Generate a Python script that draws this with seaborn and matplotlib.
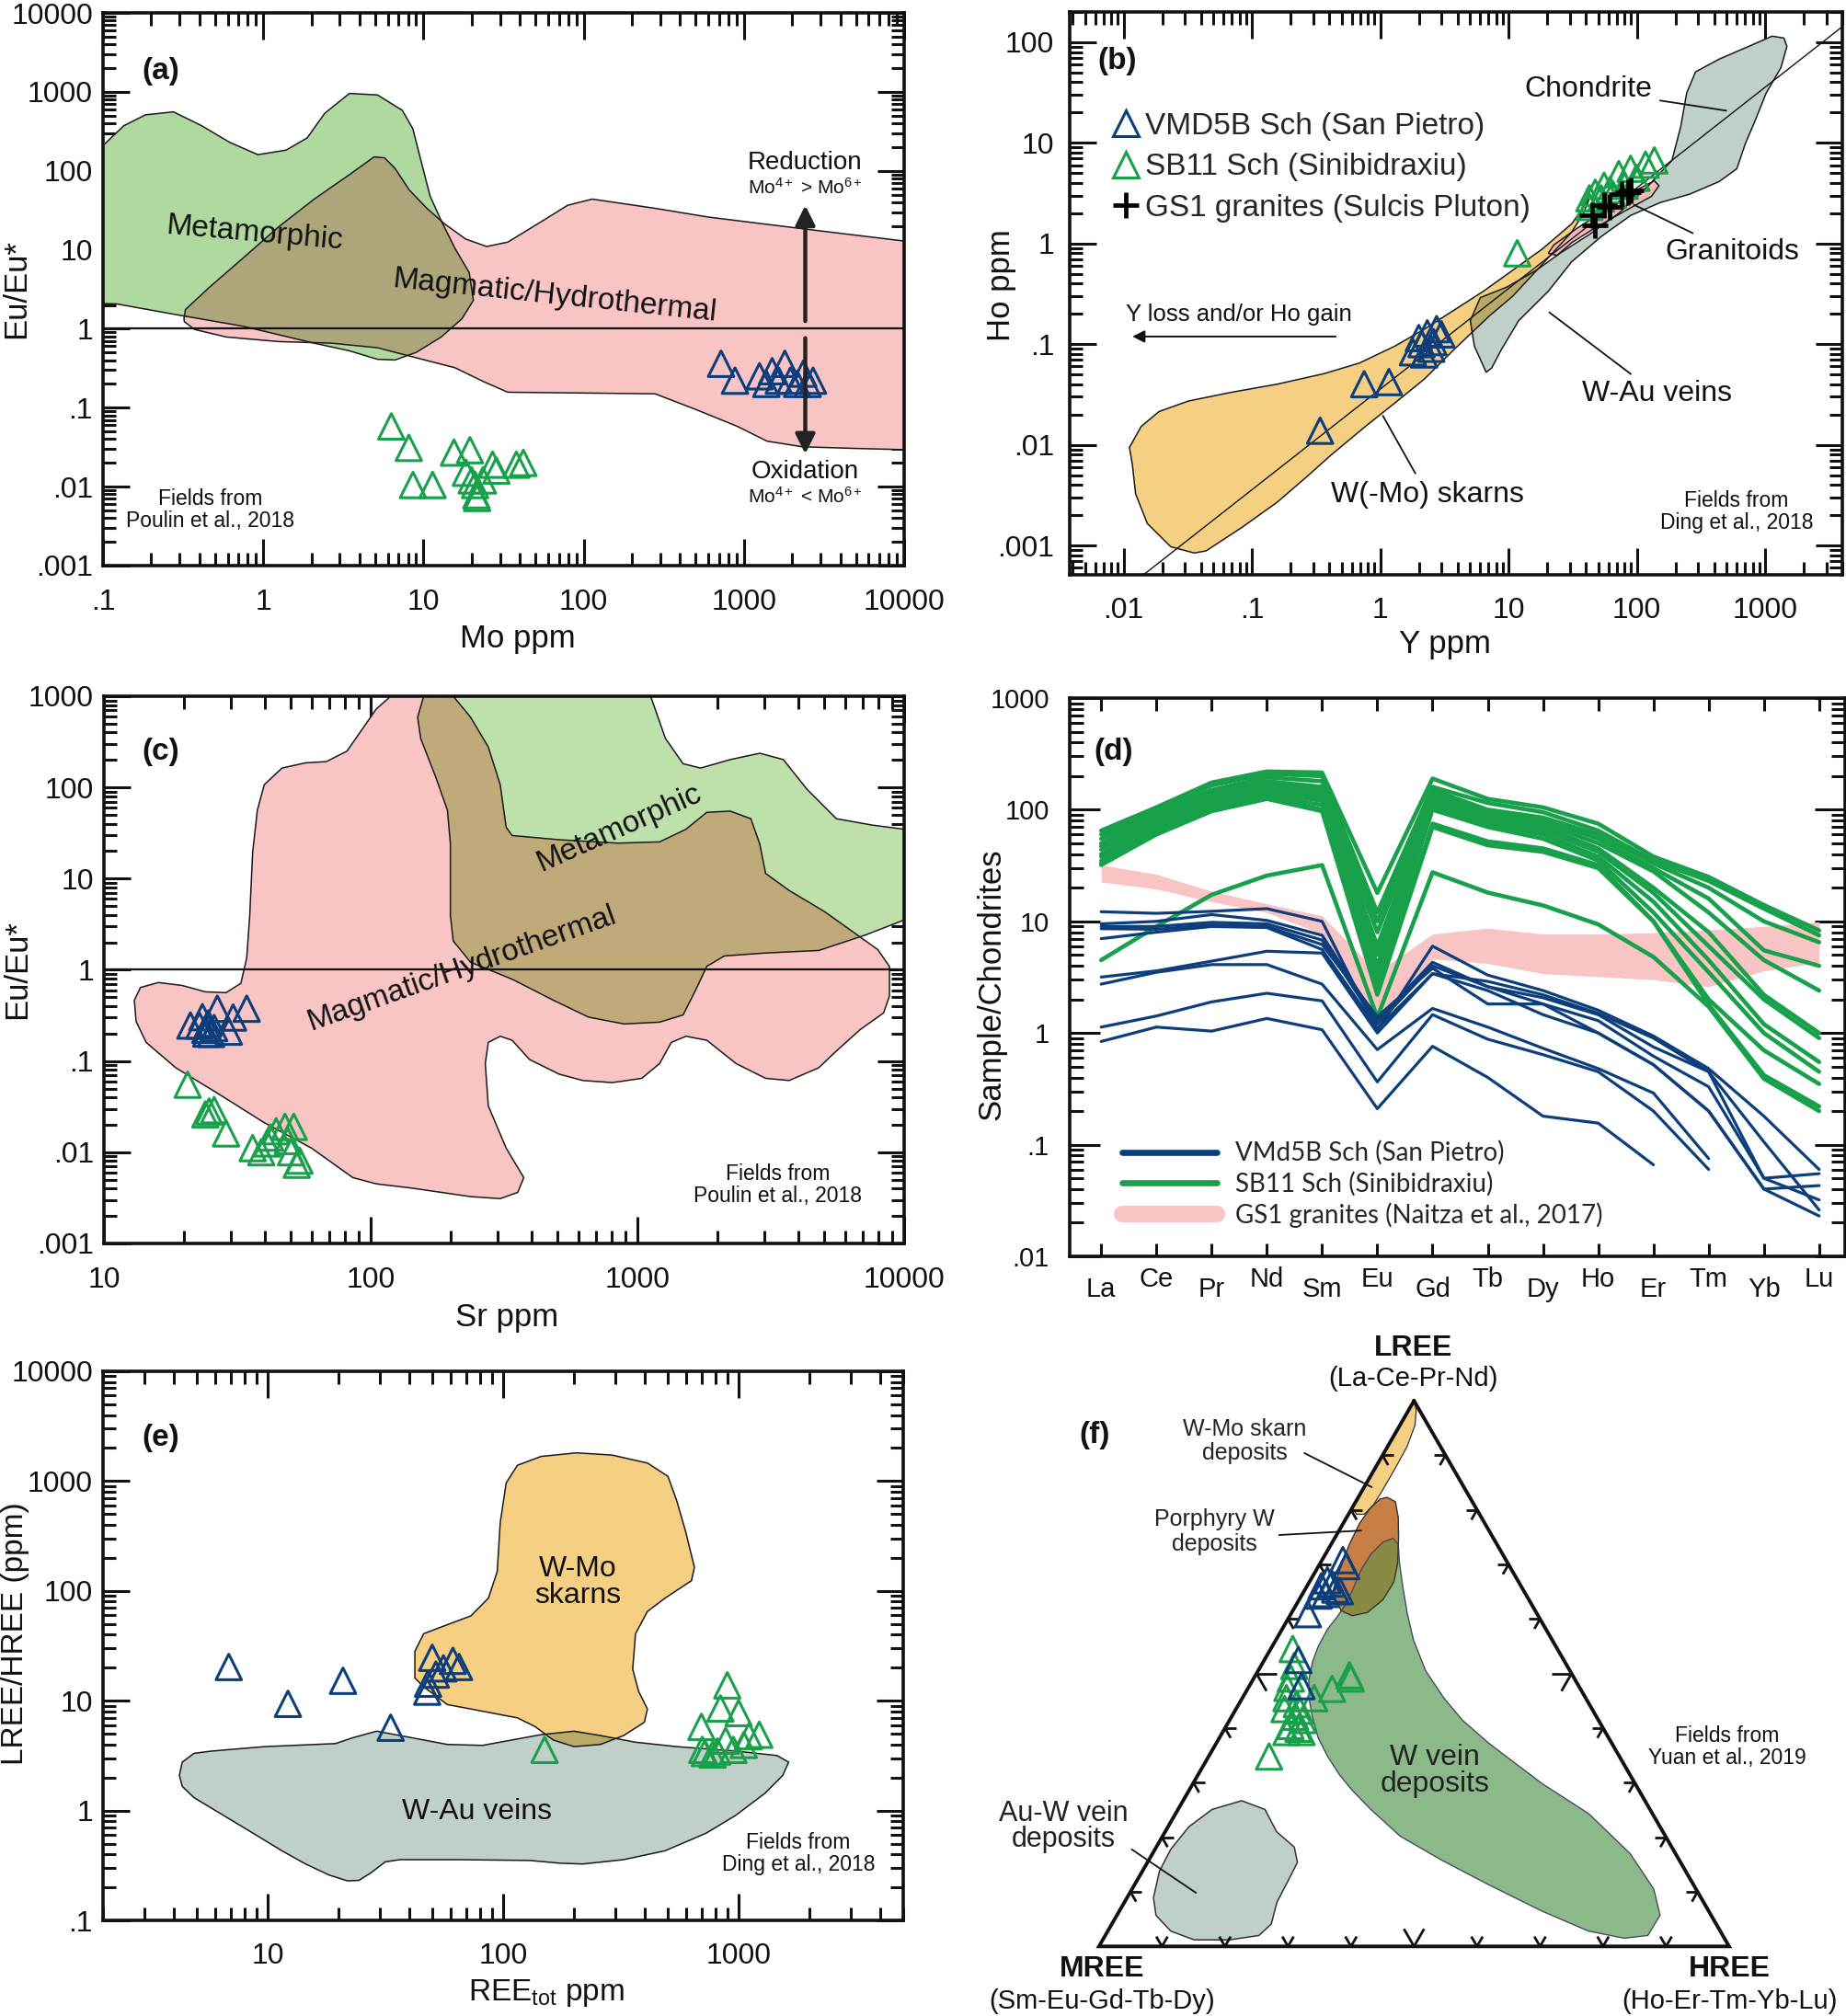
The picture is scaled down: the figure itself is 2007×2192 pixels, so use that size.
"""
Six-panel geochemistry figure: Eu/Eu* vs Mo and Sr, Ho vs Y, REE spider
diagram, LREE/HREE vs REE total and an LREE-MREE-HREE ternary plot.
"""
import matplotlib
matplotlib.use("Agg")
import matplotlib.pyplot as plt
import numpy as np
import pandas as pd
import seaborn as sns
from matplotlib.lines import Line2D
from matplotlib.patches import Polygon
from matplotlib.ticker import (FixedLocator, FuncFormatter, LogLocator,
                               NullFormatter, NullLocator)
from matplotlib.transforms import blended_transform_factory

sns.set_style("ticks")
plt.rcParams["font.family"] = ["Liberation Sans", "DejaVu Sans"]
plt.rcParams["mathtext.fontset"] = "custom"
plt.rcParams["mathtext.rm"] = "Liberation Sans"
plt.rcParams["mathtext.it"] = "Liberation Sans:italic"
plt.rcParams["mathtext.bf"] = "Liberation Sans:bold"

# ---------------------------------------------------------------- data ----
# (a) Eu/Eu* vs Mo
A_BLUE_MO = [720, 880, 1250, 1380, 1500, 1650, 1800, 1950, 2150, 2350, 2500, 2700]
A_BLUE_EU = [0.36, 0.22, 0.25, 0.20, 0.29, 0.22, 0.36, 0.22, 0.20, 0.27, 0.20, 0.22]
A_GREEN_MO = [6.3, 8.1, 8.6, 11.4, 15.5, 19.5, 18.4, 20.0, 21.4, 21.6, 23.5, 27.0, 28.5, 38.0, 42.0, 21.0]
A_GREEN_EU = [0.058, 0.031, 0.0105, 0.0105, 0.027, 0.029, 0.015, 0.012, 0.0078, 0.0072,
              0.012, 0.019, 0.016, 0.019, 0.020, 0.0105]
A_META = [(0.1, 209), (0.135, 373), (0.184, 511), (0.275, 558), (0.412, 373), (0.618, 229),
          (0.927, 160), (1.39, 183), (1.88, 261), (2.42, 535), (3.45, 955), (5.17, 913),
          (7.37, 584), (8.58, 342), (9.49, 153), (11.0, 47.9), (12.9, 23.4), (15.7, 10.5),
          (19.3, 5.13), (20.5, 2.29), (17.4, 1.34), (12.9, 0.786), (9.02, 0.502), (6.65, 0.402),
          (5.17, 0.41), (3.45, 0.525), (2.08, 0.656), (0.757, 1.07), (0.275, 1.53),
          (0.122, 2.06), (0.1, 2.08)]
A_MAGMA = [(0.32, 1.34), (0.327, 1.75), (0.456, 3.28), (0.757, 8.02), (1.25, 19.6), (2.08, 43.8),
           (3.45, 89.4), (4.92, 150), (5.72, 146), (6.65, 107), (8.15, 57.2), (10.5, 33.5),
           (13.5, 21.4), (18.3, 13.7), (24.8, 11.0), (33.6, 12.5), (55.7, 23.4), (79.4, 36.6),
           (113, 43.8), (178, 38.3), (279, 33.5), (596, 26), (1393, 21), (3250, 17),
           (10000, 12.9), (10000, 0.0294), (4966, 0.0305), (2316, 0.032), (1393, 0.0377),
           (910, 0.058), (503, 0.0946), (279, 0.150), (33.6, 0.157), (23.6, 0.215),
           (15.7, 0.321), (8.58, 0.44), (5.17, 0.574), (2.68, 0.656), (1.25, 0.687),
           (0.587, 0.786), (0.372, 0.98), (0.322, 1.23)]

# (b) Ho vs Y
B_BLUE_Y = [0.34, 0.75, 1.17, 1.8, 2.0, 2.1, 2.2, 2.33, 2.5, 2.6, 2.75, 3.0]
B_BLUE_HO = [0.0138, 0.040, 0.042, 0.083, 0.115, 0.100, 0.079, 0.128, 0.090, 0.105, 0.141, 0.125]
B_GREEN_Y = [11.7, 42.7, 47.4, 52.7, 55.6, 61.8, 65.0, 72.4, 80.5, 89.5, 99.5, 117, 137, 42.7]
B_GREEN_HO = [0.80, 2.81, 3.2, 2.81, 3.75, 3.4, 3.09, 4.9, 3.75, 5.53, 4.5, 6.08, 6.7, 2.31]
B_GRAN_Y = [45, 47.4, 55.6, 61.8, 76.4, 85, 89.5]
B_GRAN_HO = [1.9, 1.5, 2.43, 2.3, 3.09, 3.2, 3.4]
CHONDRITE_Y_HO = 28.0
B_SKARN = [(0.0117, 0.00638), (0.0111, 0.0094), (0.0137, 0.0152), (0.0189, 0.0214),
           (0.032, 0.0272), (0.0672, 0.033), (0.157, 0.040), (0.365, 0.0509), (0.689, 0.0649),
           (1.3, 0.0955), (2.21, 0.141), (3.75, 0.217), (6.36, 0.335), (10.8, 0.543),
           (18.3, 0.88), (31.1, 1.57), (38.5, 2.31), (42.7, 2.81), (38.5, 2.0), (31.1, 1.3),
           (18.3, 0.62), (10.8, 0.30), (7.07, 0.19), (3.75, 0.088), (2.21, 0.045), (1.3, 0.026),
           (0.766, 0.0152), (0.406, 0.00774), (0.266, 0.00478), (0.157, 0.00268),
           (0.083, 0.0015), (0.044, 0.000883), (0.0356, 0.00084), (0.0233, 0.00097),
           (0.0153, 0.00165), (0.0124, 0.00325)]
B_WAU = [(6.7, 0.0525), (5.42, 0.0955), (5.04, 0.171), (6.03, 0.29), (9.7, 0.369), (16.5, 0.543),
         (25.2, 0.8), (42.7, 1.23), (72.4, 2.0), (123, 3.75), (188, 6.7), (220, 14.5),
         (245, 31.4), (287, 50.8), (439, 68), (743, 90.8), (1135, 115), (1403, 110),
         (1479, 90.8), (1330, 56), (1021, 31.4), (826, 16), (705, 10), (602, 5.53),
         (439, 4.13), (258, 3.09), (152, 2.55), (89.5, 1.9), (52.7, 1.17), (31.1, 0.659),
         (20.4, 0.335), (12.0, 0.171), (8.73, 0.0867), (7.4, 0.058)]
B_GRAN = [(20.4, 0.8), (22.6, 0.97), (34.6, 1.43), (58.6, 2.2), (99.5, 3.4), (137, 4.2),
          (149, 3.75), (130, 2.94), (80.5, 2.1), (47.4, 1.43), (31.1, 1.02), (23.9, 0.762)]

# (c) Eu/Eu* vs Sr
C_BLUE_SR = [21.1, 22.8, 23.4, 24.0, 24.6, 25.2, 25.9, 26.6, 29.4, 34.3, 24.2, 30.5]
C_BLUE_EU = [0.245, 0.245, 0.303, 0.22, 0.258, 0.198, 0.23, 0.375, 0.21, 0.375, 0.20, 0.30]
C_GREEN_SR = [20.6, 24.0, 25.9, 28.7, 36.1, 38.9, 40.9, 44.2, 47.7, 51.5, 48.9, 52.8, 54.1, 50.3, 42.0, 24.8]
C_GREEN_EU = [0.055, 0.026, 0.029, 0.0161, 0.0111, 0.0100, 0.0125, 0.017, 0.019, 0.019,
              0.0133, 0.0073, 0.0081, 0.0100, 0.0145, 0.028]
C_MAGMA = [(13.0, 0.464), (13.7, 0.64), (16.0, 0.726), (19.6, 0.675), (24.0, 0.574), (28.7, 0.562),
           (32.6, 0.711), (34.3, 1.35), (35.2, 3.91), (36.1, 19.4), (37.6, 56.2), (39.9, 107),
           (46.5, 163), (57.0, 186), (68.2, 192), (81.5, 250), (90.2, 383), (105, 726),
           (119, 1000), (204, 1000), (237, 587), (276, 278), (306, 107), (322, 36.7),
           (339, 29.7), (509, 26.7), (847, 24.5), (1211, 25.3), (1521, 34.8), (1820, 53.3),
           (2228, 55.0), (2663, 45.4), (2875, 24.0), (3025, 11.4), (3707, 7.41), (5032, 4.35),
           (6826, 2.3), (7960, 1.67), (8810, 1.09), (8810, 0.517), (8375, 0.337), (6826, 0.22),
           (5573, 0.129), (4783, 0.0843), (3707, 0.0612), (3025, 0.0646), (2344, 0.0938),
           (1820, 0.169), (1521, 0.187), (1340, 0.16), (1211, 0.0938), (1038, 0.0646),
           (805, 0.058), (624, 0.0612), (509, 0.0718), (394, 0.104), (339, 0.169), (306, 0.187),
           (276, 0.16), (269, 0.0938), (276, 0.0323), (322, 0.0111), (375, 0.00527),
           (356, 0.00363), (306, 0.0031), (237, 0.00326), (184, 0.00363), (143, 0.00404),
           (105, 0.0045), (85.7, 0.00527), (60.0, 0.0111), (39.9, 0.0211), (26.6, 0.0445),
           (18.6, 0.0843), (14.4, 0.16), (13.2, 0.272)]
C_META = [(158, 1000), (1121, 1000), (1274, 344), (1483, 182), (1726, 163), (2228, 202),
          (2875, 237), (3525, 202), (4318, 95.8), (5573, 45.4), (7570, 38.7), (10000, 34.8),
          (10000, 3.52), (7190, 2.42), (4783, 1.63), (3025, 1.53), (2118, 1.42), (1820, 1.09),
          (1641, 0.574), (1483, 0.32), (1211, 0.267), (891, 0.255), (656, 0.303), (484, 0.464),
          (339, 0.79), (237, 1.21), (204, 2.07), (199, 3.91), (199, 24.0), (194, 56.2),
          (175, 132), (154, 344), (150, 587)]

# (d) chondrite-normalised REE patterns
REE = ["La", "Ce", "Pr", "Nd", "Sm", "Eu", "Gd", "Tb", "Dy", "Ho", "Er", "Tm", "Yb", "Lu"]
D_GREEN = [
    [65, 105, 175, 220, 215, 18, 190, 125, 105, 75, 38, 25, 14, 8.3],
    [60, 100, 165, 210, 200, 12, 160, 115, 95, 65, 35, 23, 13, 7.5],
    [55, 95, 150, 195, 180, 10, 150, 100, 85, 60, 33, 20, 10, 6.5],
    [50, 90, 140, 180, 160, 8, 140, 95, 80, 55, 30, 16, 5.5, 4.0],
    [47, 85, 130, 170, 150, 6, 130, 90, 75, 50, 28, 12, 4.5, 2.4],
    [44, 80, 125, 160, 140, 5, 120, 85, 70, 45, 20, 8, 2.2, 1.0],
    [40, 75, 120, 150, 130, 4, 110, 80, 65, 42, 18, 6, 2.0, 0.9],
    [38, 70, 115, 145, 120, 3.5, 105, 75, 60, 38, 15, 4.5, 1.2, 0.55],
    [35, 65, 108, 135, 110, 3, 100, 70, 55, 35, 12, 3.5, 1.0, 0.45],
    [33, 62, 100, 130, 100, 2.5, 75, 52, 45, 32, 10, 2.0, 0.7, 0.35],
    [32, 60, 97, 125, 97, 2.2, 70, 48, 42, 30, 10, 1.8, 0.42, 0.22],
    [4.5, 9.0, 17.3, 25.7, 31.9, 1.38, 27.5, 18.1, 13.9, 9.4, 4.8, 1.72, 0.39, 0.20],
]
D_BLUE = [
    [12.2, 11.8, 12.3, 13.0, 10.0, 1.05, 6.0, 3.3, 2.4, 1.6, 0.94, 0.48, 0.18, 0.06],
    [9.5, 10.0, 11.5, 10.2, 7.5, 1.3, 4.3, 2.6, 2.07, 1.46, 0.75, 0.45, 0.106, 0.026],
    [9.0, 9.0, 9.8, 9.5, 6.8, 1.2, 4.0, 2.6, 1.82, 1.29, 0.62, 0.33, 0.05, 0.055],
    [8.6, 8.5, 9.3, 9.0, 6.2, 1.4, 3.8, 1.82, 1.82, 1.0, 0.52, 0.2, 0.04, 0.043],
    [7.0, 8.0, 9.0, 8.8, 5.6, 1.1, 3.4, 2.9, 2.2, 1.5, 0.9, 0.45, 0.05, 0.032],
    [3.17, 3.6, 4.4, 5.4, 5.2, 1.0, 3.4, 2.4, 1.46, 1.0, 0.52, 0.2, 0.04, 0.023],
    [2.74, 3.5, 4.1, 4.1, 2.74, 0.71, 1.66, 1.13, 0.73, 0.48, 0.29, 0.075, np.nan, np.nan],
    [1.13, 1.42, 1.9, 2.27, 1.94, 0.365, 1.46, 0.88, 0.64, 0.45, 0.2, 0.06, np.nan, np.nan],
    [0.84, 1.13, 1.04, 1.35, 1.07, 0.21, 0.76, 0.4, 0.18, 0.156, 0.066, np.nan, np.nan, np.nan],
]
D_GS1_HIGH = [32, 26.4, 18.6, 14.4, 11.2, 3.5, 7.7, 8.7, 7.7, 7.7, 7.9, 8.4, 9.0, 9.9]
D_GS1_LOW = [22.5, 19.5, 15.0, 12.0, 7.7, 1.2, 4.6, 4.2, 3.4, 3.2, 3.0, 2.6, 3.6, 4.3]

# (e) LREE/HREE vs REE total
E_BLUE_REE = [6.84, 12.2, 20.9, 33.3, 50.0, 61.2, 65.0, 51.8, 48.0, 47.6, 55.8]
E_BLUE_LH = [20.3, 9.37, 15.2, 5.68, 24.6, 23.1, 20.3, 17.3, 14.3, 12.1, 19.7]
E_GREEN_REE = [150, 895, 837, 1000, 695, 1107, 1224, 881, 719, 776, 950, 1052, 701, 812]
E_GREEN_LH = [3.57, 13.8, 8.5, 7.73, 5.78, 4.76, 4.9, 4.33, 3.34, 3.24, 3.57, 3.96, 3.57, 3.45]
E_SKARN = [(42.2, 19.4), (42.2, 28.2), (46.0, 40.8), (57.9, 49.2), (72.9, 59.2), (86.6, 85.9),
           (94.4, 150), (97.2, 417), (103, 962), (115, 1393), (145, 1678), (205, 1808),
           (290, 1726), (410, 1461), (501, 1106), (546, 663), (596, 346), (649, 164),
           (631, 124), (487, 85.9), (410, 65.0), (365, 40.8), (355, 19.4), (376, 12.2),
           (410, 8.41), (398, 6.37), (325, 4.82), (259, 4.0), (200, 3.82), (163, 4.39),
           (137, 5.8), (115, 6.98), (81.7, 8.03), (57.9, 9.23), (46.0, 13.4), (42.2, 16.1)]
E_WAU = [(4.22, 2.09), (4.34, 2.76), (4.87, 3.32), (5.79, 3.48), (9.72, 3.82), (19.4, 4.07),
         (23.0, 4.6), (29.0, 5.28), (41.0, 4.6), (57.9, 4.0), (81.7, 3.92), (109, 4.39),
         (145, 4.91), (200, 5.28), (259, 4.82), (365, 4.19), (546, 3.82), (972, 3.48),
         (1454, 3.17), (1631, 2.76), (1540, 2.09), (1296, 1.44), (972, 0.904), (729, 0.623),
         (487, 0.43), (325, 0.357), (218, 0.326), (173, 0.332), (130, 0.351), (64.9, 0.357),
         (36.5, 0.357), (31.6, 0.341), (27.4, 0.27), (24.4, 0.231), (21.8, 0.229),
         (18.3, 0.258), (14.5, 0.326), (11.5, 0.43), (8.66, 0.623), (6.49, 0.904),
         (4.87, 1.31), (4.34, 1.66)]

# (f) ternary, fractions of LREE and HREE (MREE = 1 - LREE - HREE)
F_BLUE_L = [0.708, 0.697, 0.671, 0.665, 0.660, 0.654, 0.651, 0.646, 0.643, 0.609, 0.525, 0.477]
F_BLUE_H = [0.033, 0.044, 0.027, 0.037, 0.023, 0.048, 0.057, 0.037, 0.027, 0.027, 0.054, 0.083]
F_GREEN_L = [0.545, 0.514, 0.491, 0.474, 0.455, 0.435, 0.444, 0.432, 0.421, 0.415, 0.404,
             0.399, 0.393, 0.393, 0.455, 0.472, 0.497, 0.491, 0.348]
F_GREEN_H = [0.035, 0.053, 0.059, 0.062, 0.070, 0.077, 0.092, 0.103, 0.101, 0.116, 0.102,
             0.117, 0.125, 0.101, 0.114, 0.134, 0.149, 0.154, 0.096]
F_SKARN = [(0.997, 0.002), (0.983, 0.012), (0.955, 0.024), (0.916, 0.031), (0.876, 0.032),
           (0.837, 0.032), (0.809, 0.031), (0.792, 0.025), (0.792, 0.013), (0.803, 0.0),
           (0.85, 0.0), (0.90, 0.0), (0.95, 0.0), (0.99, 0.0)]
F_PORPH = [(0.823, 0.046), (0.815, 0.063), (0.786, 0.082), (0.747, 0.102), (0.702, 0.123),
           (0.668, 0.134), (0.635, 0.133), (0.612, 0.120), (0.606, 0.099), (0.615, 0.077),
           (0.635, 0.058), (0.657, 0.044), (0.691, 0.037), (0.736, 0.029), (0.775, 0.026),
           (0.803, 0.029), (0.820, 0.036)]
F_WVEIN = [(0.748, 0.093), (0.736, 0.107), (0.702, 0.126), (0.657, 0.154), (0.612, 0.183),
           (0.562, 0.218), (0.505, 0.266), (0.455, 0.320), (0.415, 0.369), (0.372, 0.433),
           (0.299, 0.553), (0.243, 0.656), (0.170, 0.758), (0.105, 0.828), (0.057, 0.862),
           (0.020, 0.861), (0.015, 0.826), (0.028, 0.763), (0.065, 0.670), (0.113, 0.562),
           (0.158, 0.465), (0.202, 0.377), (0.251, 0.306), (0.286, 0.259), (0.314, 0.225),
           (0.348, 0.189), (0.382, 0.157), (0.421, 0.128), (0.455, 0.106), (0.488, 0.089),
           (0.522, 0.078), (0.550, 0.073), (0.581, 0.072), (0.604, 0.076), (0.623, 0.078),
           (0.651, 0.076), (0.691, 0.071), (0.719, 0.072), (0.741, 0.080)]
F_AUW = [(0.267, 0.093), (0.251, 0.138), (0.210, 0.177), (0.182, 0.219), (0.154, 0.238),
         (0.121, 0.240), (0.081, 0.242), (0.041, 0.253), (0.020, 0.244), (0.012, 0.201),
         (0.012, 0.145), (0.028, 0.100), (0.057, 0.062), (0.089, 0.042), (0.138, 0.027),
         (0.178, 0.025), (0.219, 0.033), (0.251, 0.054)]
F_CORNERS = [(1.0, 0.0), (0.0, 0.0), (0.0, 1.0)]

# --------------------------------------------------------------- style ----
BLUE = "#0c3e7c"
GREEN = "#19a04b"
PINK = "#f8c4c4"
META_GREEN = "#b0d9a0"
META_GREEN_C = "#bee0aa"
BROWN_A = "#ada67a"
BROWN_C = "#c0aa7a"
ORANGE = "#f6d082"
GREY = "#c0d0c8"
OLIVE = "#b9aa66"
GRAN_PINK = "#f4b8b8"
PORPH = "#c87f45"
WVEIN = "#8cb98a"
PORPH_WVEIN = "#8a8a45"
INK = "#111111"

FIG_W, FIG_H = 2008, 2192
LABEL_SIZE = 25


def px_axes(fig, left, top, right, bottom):
    return fig.add_axes([left / FIG_W, 1 - bottom / FIG_H,
                         (right - left) / FIG_W, (bottom - top) / FIG_H])


def dec_label(v, pos):
    if v >= 1:
        return f"{v:.0f}"
    return f"{v:.6f}".rstrip("0")[1:]


def style_axes(ax, xlim, ylim, xlog=True, xpad=14, ypad=8, lsize=23, major=21, minor=10):
    axes_list = [ax.yaxis] + ([ax.xaxis] if xlog else [])
    for axis in axes_list:
        axis.set_major_locator(LogLocator(base=10, numticks=60))
        axis.set_minor_locator(LogLocator(base=10, subs=np.arange(2, 10), numticks=60))
        axis.set_major_formatter(FuncFormatter(dec_label))
        axis.set_minor_formatter(NullFormatter())
    ax.set_xlim(*xlim)
    ax.set_ylim(*ylim)
    ax.tick_params(which="both", direction="in", top=True, right=True, width=2.2,
                   colors=INK, labelsize=lsize)
    ax.tick_params(which="major", length=major)
    ax.tick_params(which="minor", length=minor)
    ax.tick_params(axis="x", pad=xpad)
    ax.tick_params(axis="y", pad=ypad)
    for sp in ax.spines.values():
        sp.set_linewidth(2.6)
        sp.set_color(INK)


def set_labels(ax, xlabel, ylabel, xpos, ypos, size=LABEL_SIZE):
    ax.set_xlabel(xlabel, fontsize=size, color=INK)
    ax.set_ylabel(ylabel, fontsize=size, color=INK)
    ax.xaxis.label.set_va("center")
    ax.yaxis.label.set_va("center")
    ax.xaxis.set_label_coords(*xpos)
    ax.yaxis.set_label_coords(*ypos)


def field(ax, pts, color, z):
    patch = Polygon(pts, closed=True, facecolor=color, edgecolor="none", zorder=z)
    ax.add_patch(patch)
    return patch


def overlap(ax, pts, clip_patch, color, z):
    patch = Polygon(pts, closed=True, facecolor=color, edgecolor="none", zorder=z)
    ax.add_patch(patch)
    patch.set_clip_path(clip_patch)


def outline(ax, pts, z=2, color="#1a1a1a", lw=1.1):
    ax.add_patch(Polygon(pts, closed=True, fill=False, edgecolor=color, lw=lw, zorder=z))


def triangles(ax, x, y, color, s=400, lw=2.2):
    sns.scatterplot(x=x, y=y, ax=ax, marker="^", s=s, facecolor="none", edgecolor=color,
                    linewidth=lw, zorder=6, legend=False)


def panel_label(ax, text, x, y, transform=None):
    ax.text(x, y, text, transform=transform if transform is not None else ax.transAxes,
            fontsize=24, fontweight="bold", ha="center", va="center", color=INK, zorder=8)


def source_note(ax, text, x, y, transform=None, size=16.5):
    ax.text(x, y, text, transform=transform if transform is not None else ax.transAxes,
            fontsize=size, ha="center", va="center", linespacing=1.05, color=INK, zorder=8)


def ternary_xy(lree, hree):
    lree = np.asarray(lree, float)
    hree = np.asarray(hree, float)
    return hree + lree / 2.0, lree * np.sqrt(3) / 2.0


def ternary_pts(pairs):
    l, h = zip(*pairs)
    return np.column_stack(ternary_xy(l, h))


fig = plt.figure(figsize=(FIG_W / 100, FIG_H / 100), dpi=100)

# ----------------------------------------------------------- panel (a) ----
ax = px_axes(fig, 112, 14, 983, 615)
ax.set_xscale("log")
ax.set_yscale("log")
field(ax, A_META, META_GREEN, 1)
pink_a = field(ax, A_MAGMA, PINK, 1.1)
overlap(ax, A_META, pink_a, BROWN_A, 1.2)
outline(ax, A_META)
outline(ax, A_MAGMA)
ax.axhline(1, color=INK, lw=1.6, zorder=3)
triangles(ax, A_BLUE_MO, A_BLUE_EU, BLUE)
triangles(ax, A_GREEN_MO, A_GREEN_EU, GREEN)
arrow_kw = dict(arrowstyle="-|>", lw=3.2, color="#222222", mutation_scale=32, shrinkA=0, shrinkB=0)
ax.annotate("", xy=(2415, 36.5), xytext=(2415, 1.25), arrowprops=arrow_kw, zorder=7)
ax.annotate("", xy=(2415, 0.026), xytext=(2415, 0.76), arrowprops=arrow_kw, zorder=7)
ax.text(2400, 128, "Reduction", fontsize=20, ha="center", va="center", color=INK)
ax.text(2400, 62, r"Mo$^{4+}$ > Mo$^{6+}$", fontsize=15, ha="center", va="center", color=INK)
ax.text(2400, 0.0156, "Oxidation", fontsize=20, ha="center", va="center", color=INK)
ax.text(2400, 0.0075, r"Mo$^{4+}$ < Mo$^{6+}$", fontsize=15, ha="center", va="center", color=INK)
ax.text(0.88, 16.1, "Metamorphic", fontsize=24, rotation=-5, ha="center", va="center",
        color=INK, zorder=4)
ax.text(65.7, 2.6, "Magmatic/Hydrothermal", fontsize=24, rotation=-6, ha="center",
        va="center", color=INK, zorder=4)
panel_label(ax, "(a)", 0.072, 0.895)
source_note(ax, "Fields from\nPoulin et al., 2018", 0.134, 0.101)
style_axes(ax, (0.1, 10000), (0.001, 10000), xpad=18, ypad=8)
set_labels(ax, "Mo ppm", "Eu/Eu*", (0.518, -0.133), (-0.108, 0.5))

# ----------------------------------------------------------- panel (b) ----
ax = px_axes(fig, 1163, 13, 2003, 625)
ax.set_xscale("log")
ax.set_yscale("log")
skarn_b = field(ax, B_SKARN, ORANGE, 1)
field(ax, B_WAU, GREY, 1.1)
overlap(ax, B_WAU, skarn_b, OLIVE, 1.2)
outline(ax, B_SKARN)
outline(ax, B_WAU)
field(ax, B_GRAN, GRAN_PINK, 1.4)
outline(ax, B_GRAN, z=2.1)
ax.axline((1.0, 1.0 / CHONDRITE_Y_HO), (1000.0, 1000.0 / CHONDRITE_Y_HO), color=INK, lw=1.0,
          zorder=3)
triangles(ax, B_BLUE_Y, B_BLUE_HO, BLUE)
triangles(ax, B_GREEN_Y, B_GREEN_HO, GREEN)
sns.scatterplot(x=B_GRAN_Y, y=B_GRAN_HO, ax=ax, marker="+", s=380, color="black", linewidth=3.4,
                zorder=7, legend=False)
lead = dict(arrowstyle="-", lw=1.3, color=INK, shrinkA=4, shrinkB=0)
ax.annotate("Chondrite", xy=(498, 20.9), xytext=(41.8, 33.9), fontsize=23, ha="center",
            va="center", arrowprops=lead, color=INK)
ax.annotate("Granitoids", xy=(95, 2.43), xytext=(553, 0.82), fontsize=23, ha="center",
            va="center", arrowprops=lead, color=INK)
ax.annotate("W-Au veins", xy=(20.8, 0.207), xytext=(144, 0.032), fontsize=23, ha="center",
            va="center", arrowprops=lead, color=INK)
ax.annotate("W(-Mo) skarns", xy=(1.05, 0.0194), xytext=(2.33, 0.00319), fontsize=23,
            ha="center", va="center", arrowprops=lead, color=INK)
ax.text(0.0787, 0.197, "Y loss and/or Ho gain", fontsize=18.5, ha="center", va="center", color=INK)
ax.annotate("", xy=(0.0117, 0.119), xytext=(0.45, 0.119),
            arrowprops=dict(arrowstyle="-|>", lw=1.4, color=INK, mutation_scale=20,
                            shrinkA=0, shrinkB=0))
legend_b = [
    Line2D([], [], ls="none", marker="^", ms=20, mfc="none", mec=BLUE, mew=2.2),
    Line2D([], [], ls="none", marker="^", ms=20, mfc="none", mec=GREEN, mew=2.2),
    Line2D([], [], ls="none", marker="+", ms=20, mec="black", mew=3.4),
]
ax.legend(legend_b, ["VMD5B Sch (San Pietro)", "SB11 Sch (Sinibidraxiu)",
                     "GS1 granites (Sulcis Pluton)"],
          loc="upper left", bbox_to_anchor=(0.056, 0.822), frameon=False, fontsize=24,
          handlelength=0.85, handletextpad=0.2, labelspacing=0.4, borderpad=0,
          borderaxespad=0)
panel_label(ax, "(b)", 0.061, 0.912)
source_note(ax, "Fields from\nDing et al., 2018", 0.863, 0.112)
style_axes(ax, (0.0038, 4000), (0.00051, 200), xpad=17, ypad=12)
set_labels(ax, "Y ppm", "Ho ppm", (0.486, -0.123), (-0.089, 0.515))

# ----------------------------------------------------------- panel (c) ----
ax = px_axes(fig, 113, 757, 983, 1352)
ax.set_xscale("log")
ax.set_yscale("log")
pink_c = field(ax, C_MAGMA, PINK, 1)
field(ax, C_META, META_GREEN_C, 1.1)
overlap(ax, C_META, pink_c, BROWN_C, 1.2)
outline(ax, C_MAGMA)
outline(ax, C_META)
ax.axhline(1, color=INK, lw=1.6, zorder=3)
triangles(ax, C_BLUE_SR, C_BLUE_EU, BLUE)
triangles(ax, C_GREEN_SR, C_GREEN_EU, GREEN)
ax.text(220, 1.03, "Magmatic/Hydrothermal", fontsize=24, rotation=19.5, ha="center",
        va="center", color=INK, zorder=4)
ax.text(855, 35.6, "Metamorphic", fontsize=24, rotation=24, ha="center", va="center",
        color=INK, zorder=4)
panel_label(ax, "(c)", 0.071, 0.899)
source_note(ax, "Fields from\nPoulin et al., 2018", 0.8425, 0.106)
style_axes(ax, (10, 10000), (0.001, 1000), xpad=18, ypad=8)
set_labels(ax, "Sr ppm", "Eu/Eu*", (0.503, -0.136), (-0.108, 0.5))

# ----------------------------------------------------------- panel (d) ----
ax = px_axes(fig, 1163, 759, 2006, 1366)
ax.set_yscale("log")
pos = np.arange(len(REE))
ax.fill_between(pos, D_GS1_LOW, D_GS1_HIGH, color=PINK, lw=0, zorder=1)
green_df = pd.DataFrame([(i, p, v) for i, row in enumerate(D_GREEN) for p, v in zip(pos, row)],
                        columns=["sample", "pos", "value"])
blue_df = pd.DataFrame([(i, p, v) for i, row in enumerate(D_BLUE) for p, v in zip(pos, row)],
                       columns=["sample", "pos", "value"])
sns.lineplot(data=green_df, x="pos", y="value", units="sample", estimator=None, color=GREEN,
             linewidth=3.3, ax=ax, legend=False, zorder=3)
sns.lineplot(data=blue_df, x="pos", y="value", units="sample", estimator=None, color=BLUE,
             linewidth=2.3, ax=ax, legend=False, zorder=4)
style_axes(ax, (-0.57, 13.47), (0.01, 1000), xlog=False, xpad=14, ypad=16, lsize=21,
           major=24, minor=11)
ax.xaxis.set_major_locator(FixedLocator(pos))
ax.xaxis.set_major_formatter(NullFormatter())
ax.xaxis.set_minor_locator(NullLocator())
ax.tick_params(axis="x", which="major", length=10)
tick_tr = blended_transform_factory(ax.transData, ax.transAxes)
for p, name in zip(pos, REE):
    ax.text(p, -0.018 if p % 2 else -0.036, name, transform=tick_tr, ha="center", va="top",
            fontsize=21, color=INK)
legend_d = [Line2D([], [], color=BLUE, lw=4.8), Line2D([], [], color=GREEN, lw=4.8),
            Line2D([], [], color=PINK, lw=13)]
ax.legend(legend_d, ["VMd5B Sch (San Pietro)", "SB11 Sch (Sinibidraxiu)",
                     "GS1 granites (Naitza et al., 2017)"],
          loc="upper left", bbox_to_anchor=(0.068, 0.207), frameon=False,
          prop={"family": ["Lato", "DejaVu Sans"], "size": 20},
          handlelength=3.7, handletextpad=0.72, labelspacing=0.24, borderpad=0,
          borderaxespad=0)
panel_label(ax, "(d)", 0.057, 0.903)
ax.set_xlabel("")
ax.set_ylabel("Sample/Chondrites", fontsize=LABEL_SIZE, color=INK)
ax.yaxis.label.set_va("center")
ax.yaxis.set_label_coords(-0.101, 0.488)

# ----------------------------------------------------------- panel (e) ----
ax = px_axes(fig, 112, 1491, 982, 2088)
ax.set_xscale("log")
ax.set_yscale("log")
skarn_e = field(ax, E_SKARN, ORANGE, 1)
field(ax, E_WAU, GREY, 1.1)
overlap(ax, E_WAU, skarn_e, OLIVE, 1.2)
outline(ax, E_SKARN)
outline(ax, E_WAU)
triangles(ax, E_BLUE_REE, E_BLUE_LH, BLUE)
triangles(ax, E_GREEN_REE, E_GREEN_LH, GREEN)
ax.text(208, 119, "W-Mo\nskarns", fontsize=23, ha="center", va="center", linespacing=0.95,
        color=INK, zorder=4)
ax.text(77.6, 0.98, "W-Au veins", fontsize=23, ha="center", va="center", color=INK, zorder=4)
panel_label(ax, "(e)", 0.072, 0.879)
source_note(ax, "Fields from\nDing et al., 2018", 0.869, 0.121)
style_axes(ax, (2, 5000), (0.1, 10000), xpad=17, ypad=8)
set_labels(ax, r"REE$_{\rm tot}$ ppm", "LREE/HREE (ppm)", (0.554, -0.132), (-0.11, 0.523),
           size=24)

# ----------------------------------------------------------- panel (f) ----
ax = px_axes(fig, 1004, 1440, 2008, 2192)
ax.set_xlim(-0.2785, 1.187)
ax.set_ylim(-0.1105, 0.9873)
ax.axis("off")
field(ax, ternary_pts(F_AUW), GREY, 1)
outline(ax, ternary_pts(F_AUW), color="#333333")
field(ax, ternary_pts(F_SKARN), ORANGE, 1)
outline(ax, ternary_pts(F_SKARN), color="#333333", lw=0.9)
porph = field(ax, ternary_pts(F_PORPH), PORPH, 1.1)
field(ax, ternary_pts(F_WVEIN), WVEIN, 1.05)
overlap(ax, ternary_pts(F_WVEIN), porph, PORPH_WVEIN, 1.2)
outline(ax, ternary_pts(F_WVEIN), color="#4a4a5a", lw=1.0)
outline(ax, ternary_pts(F_PORPH), color="#333333", lw=1.0)

cx, cy = ternary_xy(*zip(*(F_CORNERS + F_CORNERS[:1])))
ax.plot(cx, cy, color=INK, lw=2.8, solid_joinstyle="miter", zorder=5)
for t in np.arange(1, 10) / 10:
    d = 0.032 if abs(t - 0.5) < 1e-9 else 0.018
    stubs = [((t, 0), (t, d)), ((t, 0), (t - d, d)),
             ((t, 1 - t), (t, 1 - t - d)), ((t, 1 - t), (t - d, 1 - t)),
             ((0, t), (d, t)), ((0, t), (d, t - d))]
    for a, b in stubs:
        sx, sy = ternary_xy([a[0], b[0]], [a[1], b[1]])
        ax.plot(sx, sy, color=INK, lw=2.0, zorder=5, solid_capstyle="butt")

bx, by = ternary_xy(F_BLUE_L, F_BLUE_H)
gx, gy = ternary_xy(F_GREEN_L, F_GREEN_H)
triangles(ax, gx, gy, GREEN)
triangles(ax, bx, by, BLUE)

ax.text(0.499, 0.950, "LREE", fontsize=23, fontweight="bold", ha="center", va="center", color=INK)
ax.text(0.499, 0.901, "(La-Ce-Pr-Nd)", fontsize=21, ha="center", va="center", color=INK)
ax.text(0.005, -0.036, "MREE", fontsize=23, fontweight="bold", ha="center", va="center", color=INK)
ax.text(0.005, -0.087, "(Sm-Eu-Gd-Tb-Dy)", fontsize=21, ha="center", va="center", color=INK)
ax.text(1.001, -0.036, "HREE", fontsize=23, fontweight="bold", ha="center", va="center", color=INK)
ax.text(1.001, -0.087, "(Ho-Er-Tm-Yb-Lu)", fontsize=21, ha="center", va="center", color=INK)

lead_f = dict(arrowstyle="-", lw=1.3, color=INK, shrinkA=0, shrinkB=0)
ax.text(0.231, 0.802, "W-Mo skarn\ndeposits", fontsize=18, ha="center", va="center",
        linespacing=1.15, color="#222222")
ax.annotate("", xy=(0.433, 0.729), xytext=(0.326, 0.783), arrowprops=lead_f)
ax.text(0.183, 0.658, "Porphyry W\ndeposits", fontsize=18, ha="center", va="center",
        linespacing=1.15, color="#222222")
ax.annotate("", xy=(0.416, 0.660), xytext=(0.286, 0.653), arrowprops=lead_f)
ax.text(0.533, 0.2785, "W vein\ndeposits", fontsize=23, ha="center", va="center",
        linespacing=0.92, color="#222222", zorder=4)
ax.text(-0.056, 0.190, "Au-W vein\ndeposits", fontsize=22, ha="center", va="center",
        linespacing=0.92, color="#222222")
ax.annotate("", xy=(0.154, 0.085), xytext=(0.052, 0.154), arrowprops=lead_f)
panel_label(ax, "(f)", -0.007, 0.811, transform=ax.transData)
source_note(ax, "Fields from\nYuan et al., 2019", 0.997, 0.317, transform=ax.transData)

fig.savefig("out.png", dpi=100, facecolor="white")
plt.close(fig)
